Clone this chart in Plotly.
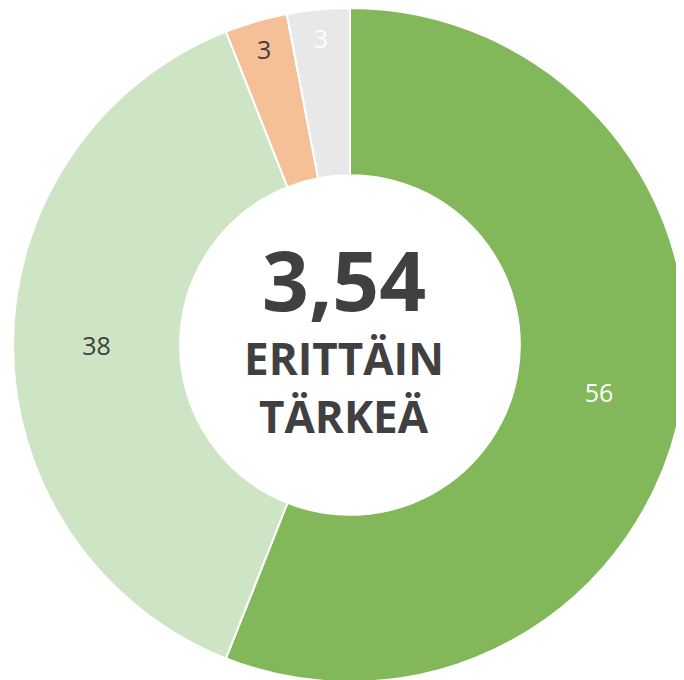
import plotly.graph_objects as go

categories = ["Erittäin tärkeä", "Melko tärkeä", "Ei kovin tärkeä", "Ei lainkaan tärkeä", "En osaa sanoa"]
values = [56, 38, 3, 0, 3]
colors = ["#82B85A", "#CDE5C4", "#F5BF97", "#ED7D31", "#E8E8E8"]
label_colors = ["#FFFFFF", "#404040", "#404040", "#404040", "#FFFFFF"]
center_value = "3,54"
center_lines = ["ERITTÄIN", "TÄRKEÄ"]

fig = go.Figure(go.Pie(
    labels=categories,
    values=values,
    sort=False,
    direction="clockwise",
    rotation=0,
    hole=0.504,
    marker=dict(colors=colors, line=dict(color="#FFFFFF", width=2)),
    texttemplate=[f"{v}" if v else "" for v in values],
    textposition="inside",
    insidetextorientation="horizontal",
    textfont=dict(family="Open Sans", size=25, color=label_colors),
    hoverinfo="label+value",
    showlegend=False,
    domain=dict(x=[4 / 684, 680 / 684], y=[6 / 680, 1.0]),
))

fig.add_annotation(
    x=0.4912, y=0.6022, xref="paper", yref="paper",
    text=f"<b>{center_value}</b>", showarrow=False,
    xanchor="center", yanchor="middle",
    font=dict(family="Open Sans", size=82, color="#404040"),
)
for txt, yy in zip(center_lines, [0.4853, 0.3993]):
    fig.add_annotation(
        x=0.4912, y=yy, xref="paper", yref="paper",
        text=f"<b>{txt}</b>", showarrow=False,
        xanchor="center", yanchor="middle",
        font=dict(family="Open Sans", size=44, color="#404040"),
    )

fig.update_layout(
    width=684, height=680,
    margin=dict(l=0, r=0, t=0, b=0),
    paper_bgcolor="#FFFFFF",
    plot_bgcolor="#FFFFFF",
    uniformtext=dict(minsize=25, mode="show"),
)

fig.write_html("out.html")
